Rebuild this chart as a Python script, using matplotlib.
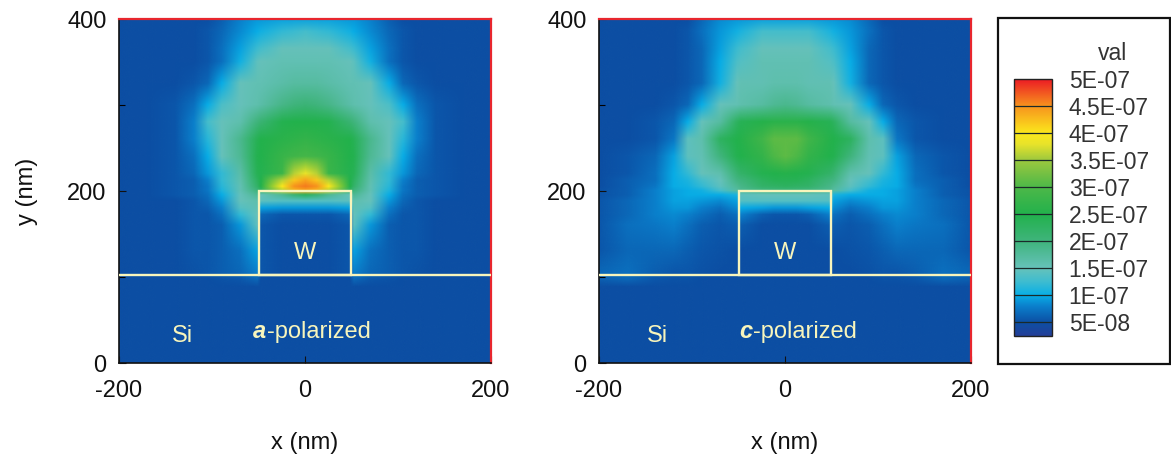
#!/usr/bin/env python3
"""Field maps around a W wire on Si, a- and c-polarized."""

import matplotlib
matplotlib.use('Agg')
import matplotlib.pyplot as plt
from matplotlib.colors import LinearSegmentedColormap, Normalize
from matplotlib.image import NonUniformImage
from matplotlib.patches import Rectangle
import numpy as np

plt.rcParams['font.family'] = ['Liberation Sans', 'DejaVu Sans']

# grid, right half only (maps are symmetric about x=0)
x_half = [0, 12, 25, 48, 52, 70, 90, 105, 120, 140, 170, 200]
y_rows = [400, 385, 365, 350, 325, 300, 280, 260, 240, 220, 212, 205, 200, 195, 188,
          180, 172, 160, 130, 105, 97, 88, 0]

# val in units of 1E-08
val_a = [
    [9.5, 9.5, 9.5, 9.0, 9.0, 8.0, 6.0, 5.0, 5.0, 5.0, 5.0, 5.0],
    [13.0, 12.5, 12.0, 10.5, 10.0, 8.5, 6.5, 5.5, 5.0, 5.0, 5.0, 5.0],
    [15.0, 15.0, 15.0, 13.0, 12.5, 9.5, 7.0, 5.5, 5.0, 5.0, 5.0, 5.0],
    [15.5, 15.5, 15.5, 15.0, 14.5, 10.5, 7.0, 5.5, 5.0, 5.0, 5.0, 5.0],
    [17.0, 17.0, 16.5, 15.5, 15.5, 15.0, 10.0, 6.5, 5.5, 5.0, 5.0, 5.0],
    [20.5, 20.0, 19.0, 16.5, 16.0, 15.0, 13.5, 10.0, 7.0, 5.5, 5.0, 5.0],
    [25.0, 25.0, 24.5, 21.0, 20.0, 16.0, 15.0, 13.0, 8.0, 5.5, 5.0, 5.0],
    [27.0, 26.5, 26.0, 25.0, 24.0, 18.5, 15.0, 11.5, 8.0, 5.5, 5.0, 5.0],
    [29.0, 28.5, 27.5, 25.0, 24.5, 18.0, 15.0, 10.0, 7.0, 5.5, 5.0, 5.0],
    [38.0, 36.0, 28.0, 24.5, 24.0, 16.5, 12.0, 9.0, 6.5, 5.5, 5.0, 5.0],
    [44.0, 42.0, 36.0, 25.0, 23.0, 16.0, 12.0, 8.0, 6.0, 5.5, 5.0, 5.0],
    [46.0, 45.0, 40.0, 25.0, 22.0, 15.5, 11.5, 7.5, 6.0, 5.5, 5.0, 5.0],
    [44.0, 43.0, 36.0, 22.0, 20.0, 15.5, 11.0, 7.5, 6.0, 5.5, 5.0, 5.0],
    [23.0, 21.0, 18.0, 15.0, 18.0, 15.0, 10.0, 7.0, 6.0, 5.5, 5.0, 5.0],
    [14.0, 14.0, 14.0, 14.5, 16.0, 15.0, 9.0, 6.5, 5.5, 5.0, 5.0, 5.0],
    [9.0, 9.0, 9.0, 9.5, 15.5, 14.0, 8.0, 6.0, 5.5, 5.0, 5.0, 5.0],
    [5.5, 5.5, 5.5, 6.5, 15.0, 12.0, 7.0, 5.5, 5.5, 5.0, 5.0, 5.0],
    [5.0, 5.0, 5.0, 5.5, 14.5, 9.0, 6.0, 5.5, 5.5, 5.0, 5.0, 5.0],
    [5.0, 5.0, 5.0, 5.5, 9.5, 7.0, 6.0, 5.5, 5.5, 5.0, 5.0, 5.0],
    [5.0, 5.0, 5.0, 5.5, 8.0, 6.5, 6.0, 5.5, 5.2, 5.0, 5.0, 5.0],
    [5.0, 5.0, 5.0, 5.0, 6.5, 5.5, 5.2, 5.0, 5.0, 5.0, 5.0, 5.0],
    [5.0, 5.0, 5.0, 5.0, 5.0, 5.0, 5.0, 5.0, 5.0, 5.0, 5.0, 5.0],
    [5.0, 5.0, 5.0, 5.0, 5.0, 5.0, 5.0, 5.0, 5.0, 5.0, 5.0, 5.0],
]
val_c = [
    [9.5, 9.5, 9.5, 9.0, 9.0, 8.5, 6.5, 5.0, 5.0, 5.0, 5.0, 5.0],
    [13.0, 13.0, 13.0, 11.0, 10.5, 9.0, 7.0, 5.5, 5.0, 5.0, 5.0, 5.0],
    [15.0, 15.0, 15.0, 13.0, 12.5, 9.5, 6.5, 5.5, 5.0, 5.0, 5.0, 5.0],
    [15.5, 15.5, 15.5, 14.0, 13.5, 10.0, 6.5, 5.5, 5.0, 5.0, 5.0, 5.0],
    [16.0, 16.0, 15.5, 15.5, 15.0, 10.5, 6.5, 5.5, 5.0, 5.0, 5.0, 5.0],
    [18.5, 18.0, 17.0, 16.0, 15.5, 15.0, 10.0, 6.5, 5.5, 5.0, 5.0, 5.0],
    [26.0, 26.0, 25.5, 24.0, 23.0, 17.0, 15.0, 10.0, 6.5, 5.5, 5.0, 5.0],
    [31.0, 31.0, 28.5, 25.5, 25.0, 23.0, 16.0, 14.5, 7.5, 5.5, 5.0, 5.0],
    [31.0, 30.0, 27.0, 25.0, 24.5, 20.0, 15.5, 14.5, 9.5, 6.5, 5.5, 5.0],
    [25.5, 25.0, 24.5, 22.0, 21.0, 16.0, 15.0, 12.0, 10.0, 7.0, 5.5, 5.0],
    [24.0, 24.0, 23.0, 20.0, 19.5, 15.0, 13.0, 11.0, 10.0, 7.0, 6.0, 5.0],
    [23.0, 22.5, 22.0, 19.0, 18.0, 14.5, 12.0, 10.5, 10.0, 7.5, 6.0, 5.0],
    [20.0, 20.0, 19.5, 18.0, 17.0, 13.0, 10.5, 10.0, 9.5, 8.0, 6.0, 5.2],
    [15.0, 15.0, 15.0, 14.5, 11.0, 10.0, 10.0, 10.0, 9.5, 8.0, 6.0, 5.2],
    [14.0, 14.0, 14.0, 14.0, 9.5, 8.5, 9.0, 9.5, 9.5, 8.0, 6.5, 5.5],
    [9.0, 9.0, 9.5, 10.0, 8.5, 7.0, 8.0, 9.0, 9.0, 8.0, 6.5, 5.5],
    [5.5, 5.5, 6.0, 8.0, 7.0, 6.0, 7.0, 8.0, 8.5, 8.0, 6.5, 5.5],
    [5.0, 5.0, 5.0, 6.0, 6.0, 5.5, 6.0, 7.0, 8.0, 7.5, 7.0, 5.5],
    [5.0, 5.0, 5.0, 5.0, 5.0, 5.2, 5.5, 6.0, 6.5, 6.5, 6.5, 5.5],
    [5.0, 5.0, 5.0, 5.0, 5.0, 5.0, 5.2, 5.5, 5.5, 6.0, 7.0, 6.5],
    [5.0, 5.0, 5.0, 5.0, 5.0, 5.0, 5.0, 5.2, 5.2, 5.5, 6.5, 6.0],
    [5.0, 5.0, 5.0, 5.0, 5.0, 5.0, 5.0, 5.0, 5.0, 5.0, 5.0, 5.0],
    [5.0, 5.0, 5.0, 5.0, 5.0, 5.0, 5.0, 5.0, 5.0, 5.0, 5.0, 5.0],
]

legend_levels = [5e-8, 1e-7, 1.5e-7, 2e-7, 2.5e-7, 3e-7, 3.5e-7, 4e-7, 4.5e-7, 5e-7]
legend_labels = ['5E-08', '1E-07', '1.5E-07', '2E-07', '2.5E-07', '3E-07',
                 '3.5E-07', '4E-07', '4.5E-07', '5E-07']
val_min = 2.5e-8
val_max = 5e-7

CREAM = '#f8f5bc'
W, H = 1171, 455

# colours sampled from the legend and the maps
stops = [(2.5e-8, '#233f98'), (5e-8, '#0c4fa4'), (8e-8, '#0a80cc'),
         (1e-7, '#08aee6'), (1.25e-7, '#3dbcd0'), (1.5e-7, '#66c2ba'),
         (2e-7, '#3fb47c'), (2.5e-7, '#22b14c'), (3e-7, '#4db848'),
         (3.5e-7, '#9cc83e'), (3.8e-7, '#e8e32a'), (4e-7, '#fbe81c'),
         (4.5e-7, '#f7941d'), (5e-7, '#ec1c24')]
cmap = LinearSegmentedColormap.from_list(
    'val', [((v - val_min) / (val_max - val_min), c) for v, c in stops], N=512)
norm = Normalize(val_min, val_max)


def panel(left, rows, letter, letter_x, si_x):
    """Draw one field map with the W wire outline and its labels."""
    ax = fig.add_axes([left / W, 1 - 363 / H, 372 / W, 344 / H])
    xs = np.array(x_half, dtype=float)
    full_x = np.concatenate([-xs[:0:-1], xs])
    arr = np.array(rows) * 1e-8
    full = np.hstack([arr[:, :0:-1], arr])
    # NonUniformImage wants ascending y
    im = NonUniformImage(ax, interpolation='bilinear', cmap=cmap, norm=norm,
                         extent=(-200, 200, 0, 400))
    im.set_data(full_x, np.array(y_rows[::-1], dtype=float), full[::-1])
    ax.add_image(im)

    ax.set_xlim(-200, 200)
    ax.set_ylim(0, 400)
    ax.set_xticks([-200, 0, 200], ['-200', '0', '200'])
    ax.set_yticks([0, 200, 400], ['0', '200', '400'])
    ax.set_yticks([100, 300], minor=True)
    ax.tick_params(direction='in', length=5, width=0.8, labelsize=17, pad=9,
                   color='#111111', labelcolor='#111111')
    ax.tick_params(axis='x', pad=12)
    ax.tick_params(which='minor', direction='in', length=4, width=0.8)
    ax.set_xlabel('x (nm)', fontsize=17, labelpad=22, color='#111111')
    for side in ('top', 'right'):
        ax.spines[side].set_color('#e8262e')
        ax.spines[side].set_linewidth(1.6)
    for side in ('left', 'bottom'):
        ax.spines[side].set_color('#111111')
        ax.spines[side].set_linewidth(1.2)

    # wire outline and Si surface
    ax.plot([-200, 200], [102, 102], color=CREAM, lw=1.7, zorder=4)
    ax.add_patch(Rectangle((-49, 102), 98, 98, fill=False, ec=CREAM, lw=1.7, zorder=4))

    ax.text(0, 120.5, 'W', color=CREAM, fontsize=17, ha='center', va='baseline', zorder=5)
    ax.text(si_x, 24, 'Si', color=CREAM, fontsize=17, ha='left', va='baseline', zorder=5)
    ax.text(letter_x, 29.5, letter, color=CREAM, fontsize=17, fontweight='bold',
            fontstyle='italic', ha='left', va='baseline', zorder=5)
    ax.text(letter_x + 15, 29.5, '-polarized', color=CREAM, fontsize=17,
            ha='left', va='baseline', zorder=5)
    return ax, im


fig = plt.figure(figsize=(W / 100, H / 100), dpi=100, facecolor='white')

ax_a, im_a = panel(119, val_a, 'a', -55.5, -143)
ax_c, im_c = panel(599, val_c, 'c', -49, -149)
ax_a.set_ylabel('y (nm)', fontsize=17, labelpad=21, color='#111111')

# legend box
fig.add_artist(Rectangle((997.5 / W, 1 - 364 / H), 172.5 / W, 346 / H, fill=False,
                         ec='#111111', lw=1.6, transform=fig.transFigure))
cax = fig.add_axes([1014 / W, 1 - 336 / H, 38 / W, 257 / H])
cb = fig.colorbar(im_a, cax=cax)
cb.set_ticks(legend_levels, labels=legend_labels)
cb.ax.tick_params(length=0, pad=12, labelsize=16.5, labelcolor='#333333')
cb.ax.minorticks_off()
cb.ax.hlines(legend_levels[:-1], 0, 1, transform=cb.ax.get_yaxis_transform(),
             color='#1a2a2a', lw=0.9)
cb.outline.set_edgecolor('#222222')
cb.outline.set_linewidth(1.0)
fig.text(1113 / W, 1 - 54 / H, 'val', fontsize=16.5, color='#333333',
         ha='center', va='center')

fig.savefig('out.png', dpi=100, facecolor='white')
plt.close()
